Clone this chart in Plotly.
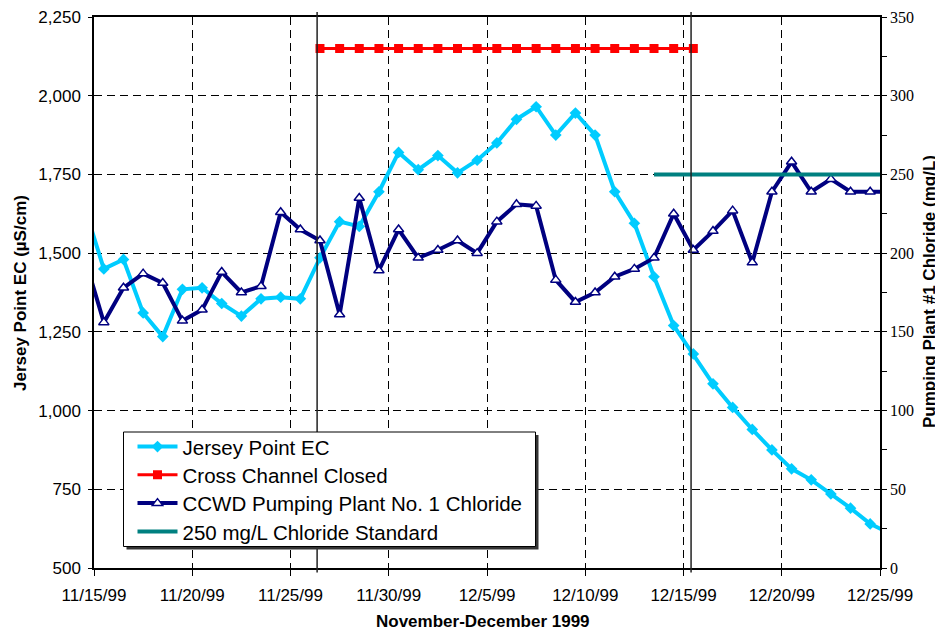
import plotly.graph_objects as go
from datetime import datetime, timedelta

# ---------------- data (daily readings, plotted at noon) ----------------
start_day = datetime(1999, 11, 14, 12)
jersey_point_ec = [1650, 1450, 1480, 1310, 1235, 1385, 1390, 1340, 1300, 1355,
                   1360, 1355, 1485, 1600, 1585, 1695, 1820, 1765, 1810, 1755,
                   1795, 1850, 1925, 1965, 1875, 1945, 1875, 1695, 1595, 1425,
                   1270, 1180, 1085, 1010, 940, 875, 815, 780, 735, 690,
                   640, 610]
ccwd_chloride = [198, 156, 178, 187, 181, 157, 164, 188, 175, 179,
                 226, 215, 208, 161, 235, 189, 215, 197, 202, 208,
                 200, 220, 231, 230, 183, 169, 175, 185, 190, 197,
                 225, 202, 214, 227, 194, 239, 258, 239, 247, 239,
                 239, 239]
dates = [start_day + timedelta(days=i) for i in range(len(jersey_point_ec))]

cross_channel_start = datetime(1999, 11, 26, 12)
cross_channel_days = 20
cross_channel_level = [2150] * cross_channel_days
cross_channel_dates = [cross_channel_start + timedelta(days=i) for i in range(cross_channel_days)]

standard_start = datetime(1999, 12, 13, 12)
standard_days = 13
standard_level = [250] * standard_days
standard_dates = [standard_start + timedelta(days=i) for i in range(standard_days)]

event_lines = [datetime(1999, 11, 26, 8, 30), datetime(1999, 12, 15, 9, 15)]

tick_dates = [datetime(1999, 11, 15) + timedelta(days=5 * i) for i in range(9)]
tick_labels = ["11/15/99", "11/20/99", "11/25/99", "11/30/99", "12/5/99",
               "12/10/99", "12/15/99", "12/20/99", "12/25/99"]

# ---------------- figure ----------------
SANS = "Liberation Sans, Arial, sans-serif"
SERIF = "Liberation Serif, Times New Roman, serif"

# the page body has an 8px margin, so the figure is made 8px smaller
BODY = 8
W, H = 943 - BODY, 631 - BODY
# plot area in window pixels: left 94, right 880, top 17, bottom 568
PL, PR, PT, PB = 94, 880, 17, 568
ML, MR, MT, MB = PL - BODY, 943 - PR, PT - BODY, 631 - PB
PW, PH = PR - PL, PB - PT


def px_to_paper_x(px):
    return (px - PL) / PW


def px_to_paper_y(py):
    return (PB - py) / PH


fig = go.Figure()
fig.add_trace(go.Scatter(
    x=dates, y=jersey_point_ec, name="Jersey Point EC", mode="lines+markers",
    line=dict(color="#00CCFF", width=4),
    marker=dict(symbol="diamond", size=9, color="#00CCFF"), yaxis="y",
    legend="legend"))
fig.add_trace(go.Scatter(
    x=cross_channel_dates, y=cross_channel_level, name="Cross Channel Closed",
    mode="lines+markers", line=dict(color="#FF0000", width=3),
    marker=dict(symbol="square", size=9, color="#FF0000"), yaxis="y",
    legend="legend2"))
fig.add_trace(go.Scatter(
    x=dates, y=ccwd_chloride, name="CCWD Pumping Plant No. 1 Chloride",
    mode="lines+markers", line=dict(color="#000080", width=4),
    marker=dict(symbol="triangle-up", size=9, color="white",
                line=dict(color="#000080", width=1.5)), yaxis="y2",
    legend="legend3"))
fig.add_trace(go.Scatter(
    x=standard_dates, y=standard_level, name="250 mg/L Chloride Standard",
    mode="lines", line=dict(color="#008080", width=4), yaxis="y2",
    legend="legend4"))

shapes = []
for d in event_lines:
    shapes.append(dict(type="line", xref="x", yref="paper", x0=d, x1=d,
                       y0=-0.008, y1=1.009, line=dict(color="#222222", width=1.5),
                       layer="above"))
# legend frame with drop shadow (window pixels)
LEG_L, LEG_R, LEG_T, LEG_B = 123.5, 535.5, 432, 546.5
shapes.append(dict(type="rect", xref="paper", yref="paper", layer="above",
                   x0=px_to_paper_x(LEG_L + 3), x1=px_to_paper_x(LEG_R + 3),
                   y0=px_to_paper_y(LEG_B + 3), y1=px_to_paper_y(LEG_T + 3),
                   fillcolor="#333333", line=dict(width=0)))
shapes.append(dict(type="rect", xref="paper", yref="paper", layer="above",
                   x0=px_to_paper_x(LEG_L), x1=px_to_paper_x(LEG_R),
                   y0=px_to_paper_y(LEG_B), y1=px_to_paper_y(LEG_T),
                   fillcolor="white", line=dict(color="black", width=1)))

annotations = [
    dict(text="<b>Jersey Point EC (µS/cm)</b>", xref="paper", yref="paper",
         x=px_to_paper_x(20), y=px_to_paper_y(293), textangle=-90,
         xanchor="center", yanchor="middle",
         showarrow=False, font=dict(family=SANS, size=17)),
    dict(text="<b>Pumping Plant #1 Chloride (mg/L)</b>", xref="paper", yref="paper",
         x=px_to_paper_x(929), y=px_to_paper_y(292), textangle=-90,
         xanchor="center", yanchor="middle",
         showarrow=False, font=dict(family=SANS, size=17)),
    dict(text="<b>November-December 1999</b>", xref="paper", yref="paper",
         x=px_to_paper_x(483), y=px_to_paper_y(621),
         xanchor="center", yanchor="middle",
         showarrow=False, font=dict(family=SANS, size=17)),
]

LEG_ROWS = [446.7, 475.0, 503.3, 531.7]
legend_common = dict(xanchor="left", yanchor="middle", bgcolor="rgba(0,0,0,0)",
                     borderwidth=0, font=dict(family=SANS, size=20.5),
                     itemwidth=40, x=px_to_paper_x(LEG_L + 9))

fig.update_layout(
    width=W, height=H,
    margin=dict(l=ML, r=MR, t=MT, b=MB, autoexpand=False),
    paper_bgcolor="white", plot_bgcolor="white",
    font=dict(family=SANS, size=17, color="black"),
    showlegend=True,
    legend=dict(y=px_to_paper_y(LEG_ROWS[0]), **legend_common),
    legend2=dict(y=px_to_paper_y(LEG_ROWS[1]), **legend_common),
    legend3=dict(y=px_to_paper_y(LEG_ROWS[2]), **legend_common),
    legend4=dict(y=px_to_paper_y(LEG_ROWS[3]), **legend_common),
    shapes=shapes,
    annotations=annotations,
    xaxis=dict(
        type="date", range=[datetime(1999, 11, 15), datetime(1999, 12, 25)],
        tickvals=tick_dates, ticktext=tick_labels, automargin=False,
        showgrid=True, gridcolor="black", griddash="8px,5px", gridwidth=1,
        showline=True, linecolor="black", linewidth=1.5, mirror=True,
        ticks="outside", ticklen=6, tickcolor="black",
        ticklabelstandoff=5, ticklabeloverflow="allow",
        tickfont=dict(family=SANS, size=17),
        zeroline=False),
    yaxis=dict(
        range=[500, 2250], dtick=250, tick0=500, tickformat=",", automargin=False,
        showgrid=True, gridcolor="black", griddash="8px,5px", gridwidth=1,
        showline=True, linecolor="black", linewidth=1.5,
        ticks="outside", ticklen=4, tickcolor="black",
        ticklabelstandoff=4, ticklabeloverflow="allow",
        tickfont=dict(family=SANS, size=17),
        zeroline=False),
    yaxis2=dict(
        range=[0, 350], dtick=50, tick0=0, overlaying="y", side="right",
        automargin=False, ticklabeloverflow="allow",
        showgrid=False, showline=True, linecolor="black", linewidth=1.5,
        ticks="outside", ticklen=5, tickcolor="black",
        minor=dict(dtick=25, ticks="outside", ticklen=5, tickcolor="black"),
        tickfont=dict(family=SERIF, size=16),
        zeroline=False),
)

fig.write_html("out.html")
